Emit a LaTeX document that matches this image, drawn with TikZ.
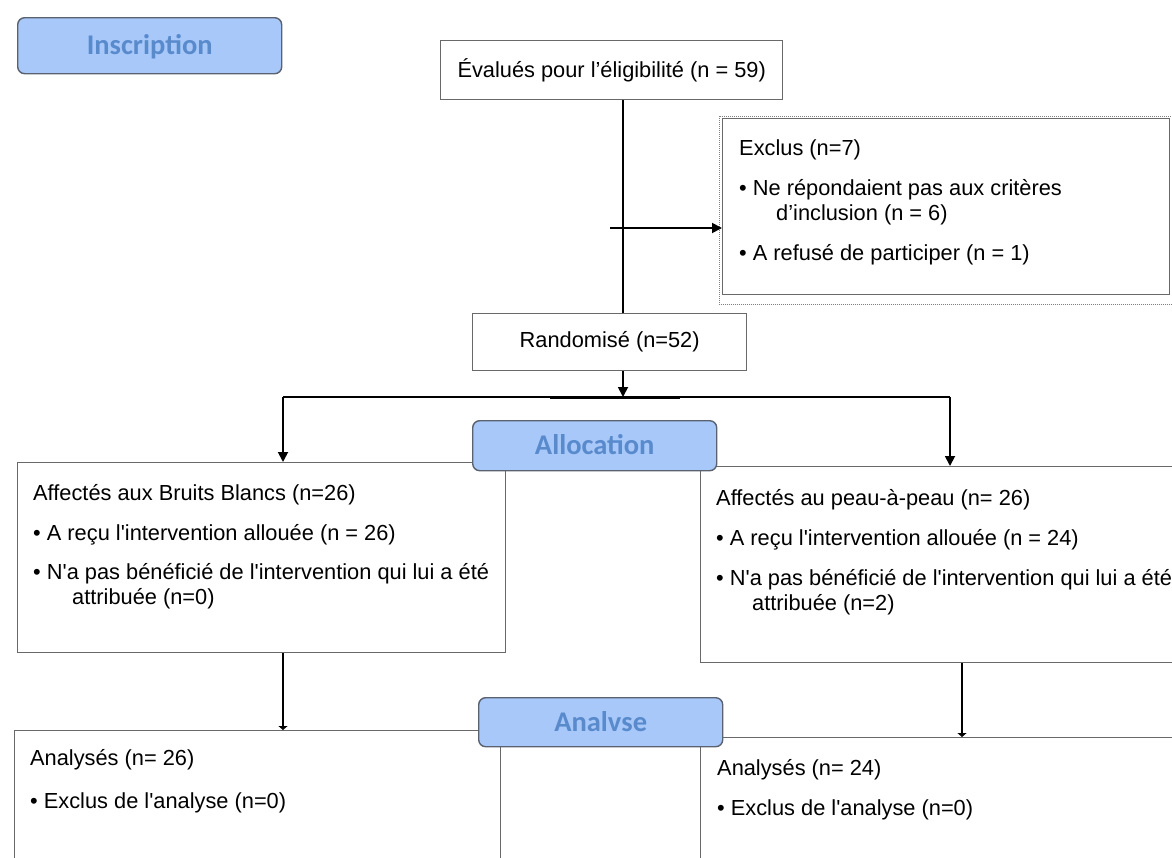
\documentclass[tikz,border=0pt]{standalone}
\usepackage{fontspec}
\setmainfont{Liberation Sans}
\newfontfamily\phasefont{Carlito}
\usetikzlibrary{arrows.meta, positioning}
\definecolor{phasefill}{RGB}{168,200,250}
\definecolor{phasetext}{RGB}{88,138,204}
\definecolor{phaseedge}{RGB}{90,98,112}
\definecolor{boxedge}{RGB}{105,105,105}
\newcommand{\sq}{\textquotesingle}

\begin{document}
\begin{tikzpicture}[x=1pt, y=-1pt, font=\fontsize{21.8}{25}\selectfont,
  box/.style={draw=boxedge, line width=1.4pt, anchor=north west, inner sep=0pt},
  phase/.style={draw=phaseedge, fill=phasefill, rounded corners=7pt, line width=1.4pt, anchor=north west, inner sep=0pt, text=phasetext, text height=21pt, text depth=3pt, font=\phasefont\bfseries\fontsize{28.5}{30}\selectfont},
  txt/.style={align=left, anchor=north west, inner sep=0pt},
  arrow/.style={-{Triangle[length=10pt, width=10pt]}, line width=1.8pt},
  stub/.style={-{Triangle[length=4pt, width=9pt]}, line width=1.8pt}]
\useasboundingbox (0,0) rectangle (1172,857);

% phases and flow boxes
\node[phase, minimum width=264, minimum height=56] (inscr) at (17,17) {Inscription};
\node[box, minimum width=342, minimum height=59] (eval) at (440,40) {Évalués pour l’éligibilité (n = 59)};
\node[box, minimum width=447, minimum height=176] (excl) at (722,118) {};
\node[txt] (excltxt) at ([xshift=17, yshift=-21]excl.north west) {Exclus (n=7)\\[15pt]• Ne répondaient pas aux critères\\\hspace*{37pt}d’inclusion (n = 6)\\[15pt]• A refusé de participer (n = 1)};
\node[box, minimum width=274, minimum height=57] (rand) at (472,313) {Randomisé (n=52)};

\node[box, minimum width=488, minimum height=190] (armA) at (17,462) {};
\node[txt] (armAtxt) at ([xshift=16, yshift=-22]armA.north west) {Affectés aux Bruits Blancs (n=26)\\[15pt]• A reçu l\sq intervention allouée (n = 26)\\[14pt]• N\sq a pas bénéficié de l\sq intervention qui lui a été\\\hspace*{39pt}attribuée (n=0)};
\node[box, minimum width=480, minimum height=196] (armB) at (700,466) {};
\node[txt] (armBtxt) at ([xshift=16, yshift=-23]armB.north west) {Affectés au peau-à-peau (n= 26)\\[15pt]• A reçu l\sq intervention allouée (n = 24)\\[15pt]• N\sq a pas bénéficié de l\sq intervention qui lui a été\\\hspace*{36pt}attribuée (n=2)};
\node[phase, minimum width=244, minimum height=50] (alloc) at (472,420) {Allocation};

\node[box, minimum width=486, minimum height=135] (anaA) at (14,730) {};
\node[txt] (anaAtxt) at ([xshift=16, yshift=-19]anaA.north west) {Analysés (n= 26)\\[18pt]• Exclus de l\sq analyse (n=0)};
\node[box, minimum width=480, minimum height=130] (anaB) at (700,737) {};
\node[txt] (anaBtxt) at ([xshift=17, yshift=-22]anaB.north west) {Analysés (n= 24)\\[15pt]• Exclus de l\sq analyse (n=0)};
\node[phase, minimum width=244, minimum height=49] (analyse) at (478,697) {Analvse};

% connectors
\coordinate (split) at (623,397);
\coordinate (splitL) at (283,397);
\coordinate (splitR) at (950,397);
\coordinate (exclfrom) at (610,228);
\coordinate (dropB) at (962,700);
\draw[densely dotted, gray, line width=1pt] ([shift={(-3,-2)}]excl.north west) rectangle ([shift={(5,9)}]excl.south east);
\draw[line width=1.8pt] (eval.south -| split) -- (rand.north -| split);
\draw[arrow] (exclfrom) -- (exclfrom -| excl.west);
\draw[arrow] (rand.south -| split) -- (split);
\draw[line width=1.4pt] (splitL) -- (splitR);
\draw[line width=3pt] ([xshift=-73]split) -- ([xshift=57]split);
\draw[arrow] (splitL) -- (splitL |- armA.north);\draw[arrow] (splitR) -- (splitR |- armB.north);
\draw[stub] (armA.south -| splitL) -- (anaA.north -| splitL);\draw[stub] (armB.south -| dropB) -- (anaB.north -| dropB);

\end{tikzpicture}
\end{document}
